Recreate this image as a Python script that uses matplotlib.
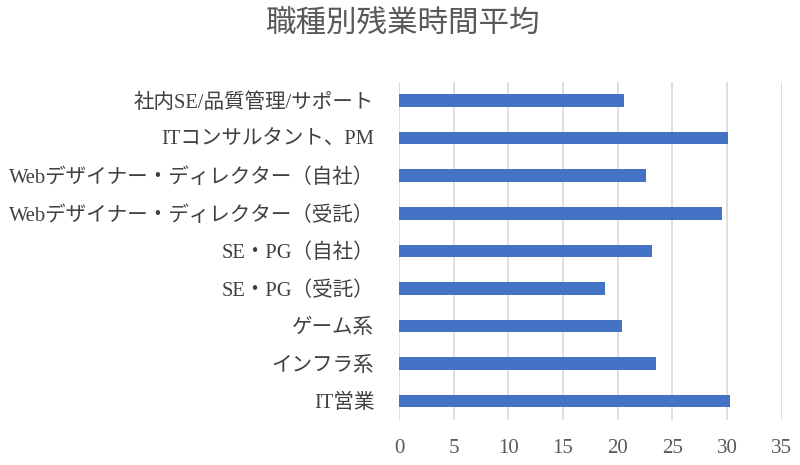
import matplotlib.pyplot as plt

# --------------- データ --------------- #
categories = [
    "社内SE/品質管理/サポート",
    "ITコンサルタント、PM",
    "Webデザイナー・ディレクター（自社）",
    "Webデザイナー・ディレクター（受託）",
    "SE・PG（自社）",
    "SE・PG（受託）",
    "ゲーム系",
    "インフラ系",
    "IT営業",
]
hours = [20.6, 30.1, 22.6, 29.5, 23.1, 18.8, 20.4, 23.5, 30.3]
x_ticks = [0, 5, 10, 15, 20, 25, 30, 35]

plt.rcParams['font.family'] = ['Liberation Serif', 'Noto Sans CJK JP', 'DejaVu Sans']

fig = plt.figure(figsize=(8, 4.65), dpi=100)
ax = fig.add_axes([0.499, 0.097, 0.478, 0.727])

pos = list(range(len(categories)))
ax.barh(pos, hours, height=0.335, color='#4472C4', zorder=3)

ax.set_yticks(pos)
ax.set_yticklabels(categories, fontsize=14.8, color='#404040')
ax.set_ylim(len(categories) - 0.5, -0.5)
ax.set_xlim(0, 35)
ax.set_xticks(x_ticks)
ax.set_xticklabels([str(t) for t in x_ticks], fontsize=15, color='#595959')
ax.tick_params(axis='both', length=0)
ax.tick_params(axis='y', pad=18)
ax.tick_params(axis='x', pad=14)

ax.grid(axis='x', color='#d9d9d9', linewidth=1.2, zorder=0)
for s in ax.spines.values():
    s.set_visible(False)

fig.text(0.504, 0.945, "職種別残業時間平均", ha='center', va='center',
         fontsize=22, color='#595959')

plt.savefig("out.png", dpi=100)
